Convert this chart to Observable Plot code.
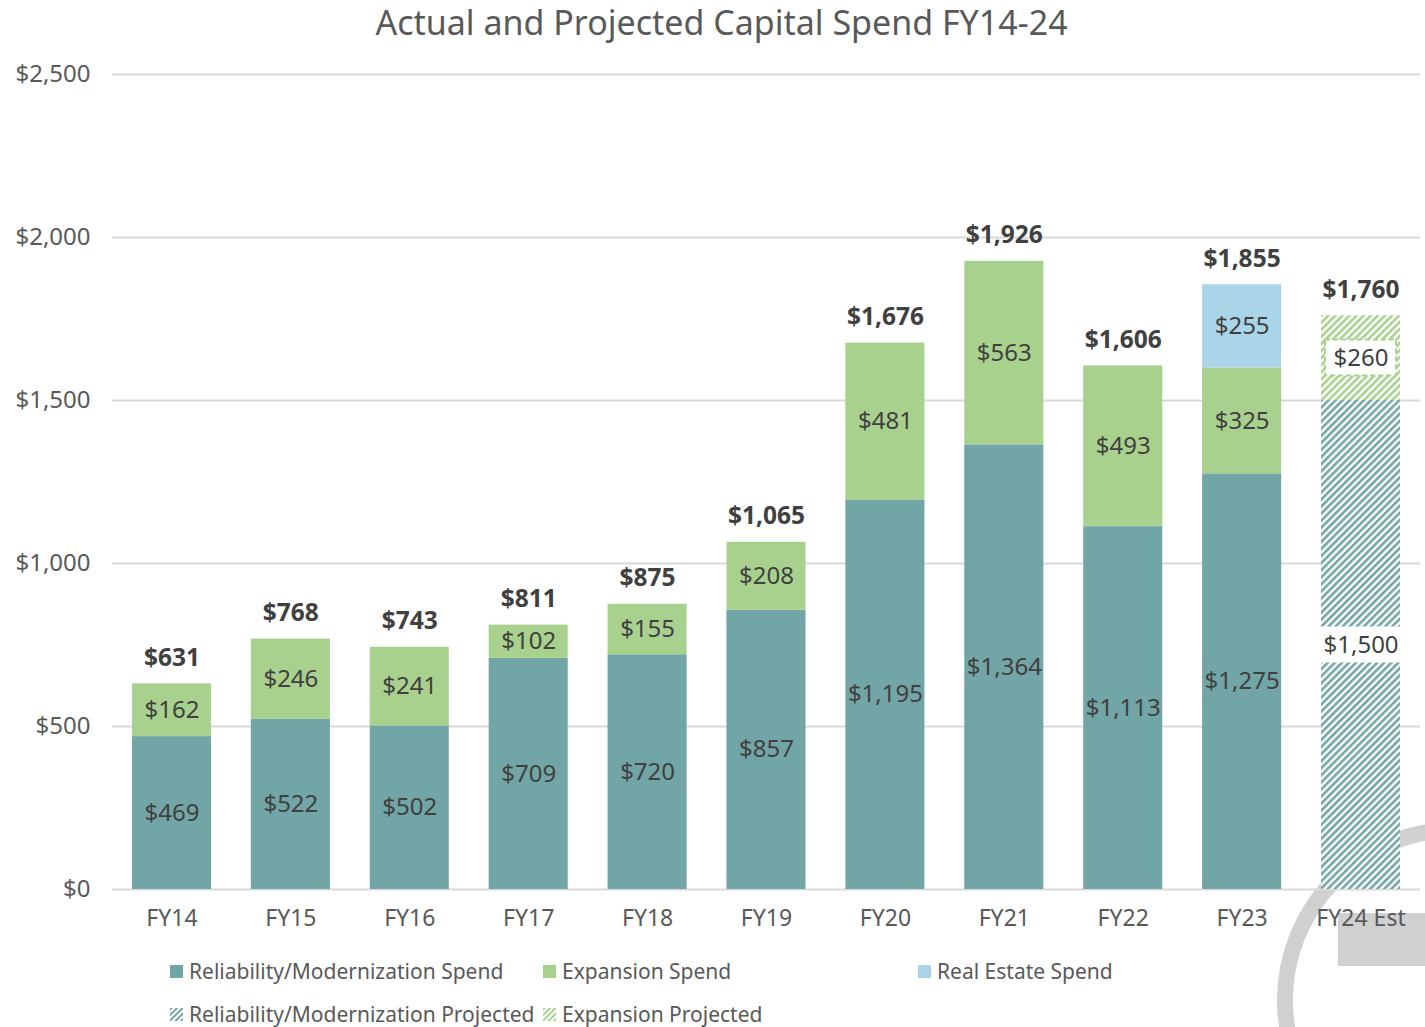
<!DOCTYPE html>
<html>
<head>
<meta charset="utf-8">
<script src="https://cdn.jsdelivr.net/npm/d3@7"></script>
<script src="https://cdn.jsdelivr.net/npm/@observablehq/plot@0.6"></script>
<style>
  html, body { margin: 0; padding: 0; background: #fff; }
  body { width: 1425px; height: 1027px; position: relative; overflow: hidden; font-family: "Noto Sans", sans-serif; }
  #title { position: relative; z-index: 2; height: 44px; line-height: 44px; text-align: center; font-size: 34px; color: #595959; padding-left: 18px; }
  #chart { position: relative; z-index: 2; }
  #legend { position: relative; z-index: 2; height: 87px; font-size: 21px; color: #595959; }
  .item { position: absolute; display: flex; align-items: center; white-space: nowrap; line-height: 1; }
  .item svg { margin-right: 6px; }
  .deco-ring { position: absolute; z-index: 1; left: 1277px; top: 822px; width: 356px; height: 356px; box-sizing: border-box; border: 16px solid #d0d0d0; border-radius: 50%; }
  .deco-rect { position: absolute; z-index: 1; left: 1338px; top: 913px; width: 100px; height: 53px; background: #d0d0d0; }
</style>
</head>
<body>
<div class="deco-ring"></div>
<div class="deco-rect"></div>
<div id="title">Actual and Projected Capital Spend FY14-24</div>
<div id="chart"></div>
<div id="legend"></div>
<script>
// ---- Data ----
const years = ["FY14","FY15","FY16","FY17","FY18","FY19","FY20","FY21","FY22","FY23","FY24 Est"];
const reliabilitySpend   = [469, 522, 502, 709, 720, 857, 1195, 1364, 1113, 1275, 0];
const expansionSpend     = [162, 246, 241, 102, 155, 208, 481, 563, 493, 325, 0];
const realEstateSpend    = [0, 0, 0, 0, 0, 0, 0, 0, 0, 255, 0];
const reliabilityProjected = [0, 0, 0, 0, 0, 0, 0, 0, 0, 0, 1500];
const expansionProjected   = [0, 0, 0, 0, 0, 0, 0, 0, 0, 0, 260];
const totalLabels = [631, 768, 743, 811, 875, 1065, 1676, 1926, 1606, 1855, 1760];
const yTicks = [0, 500, 1000, 1500, 2000, 2500];

const seriesNames = ["Reliability/Modernization Spend", "Expansion Spend", "Real Estate Spend",
                     "Reliability/Modernization Projected", "Expansion Projected"];
const seriesValues = [reliabilitySpend, expansionSpend, realEstateSpend, reliabilityProjected, expansionProjected];

const TEAL = "#72a5a5", GREEN = "#a9d18e", BLUE = "#aad4e8";
const seriesFill = [TEAL, GREEN, BLUE, "url(#hatchTeal)", "url(#hatchGreen)"];

// stack rows
const rows = [];
years.forEach((yr, i) => {
  let base = 0;
  seriesValues.forEach((vals, s) => {
    const v = vals[i];
    if (v > 0) {
      rows.push({year: yr, series: seriesNames[s], value: v, y1: base, y2: base + v, mid: base + v / 2, projected: s >= 3});
      base += v;
    }
  });
});
const totals = years.map((yr, i) => ({year: yr, total: totalLabels[i]}));
const fmt = d3.format("$,");

const projRel = rows.filter(d => d.series === seriesNames[3]);
const projExp = rows.filter(d => d.series === seriesNames[4]);

const chart = Plot.plot({
  width: 1425,
  height: 896,
  marginTop: 30,
  marginBottom: 51,
  marginLeft: 112,
  marginRight: 5,
  style: {background: "transparent", fontFamily: "Noto Sans, sans-serif", color: "#595959"},
  x: {domain: years, paddingInner: 0.335, paddingOuter: 0.1675, round: false, label: null, tickSize: 0},
  y: {domain: [0, 2500], label: null},
  color: {domain: seriesNames, range: seriesFill},
  marks: [
    Plot.ruleY(yTicks, {stroke: "#d9d9d9", strokeWidth: 2}),
    Plot.axisY({ticks: yTicks, tickFormat: fmt, tickSize: 0, tickPadding: 22, fontSize: 24, label: null, fill: "#595959"}),
    Plot.axisX({tickSize: 0, tickPadding: 20, fontSize: 23, label: null, fill: "#595959"}),
    Plot.rectY(rows, {x: "year", y1: "y1", y2: "y2", fill: "series"}),
    // label backgrounds for projected bar
    Plot.barY(projRel, {x: "year", y1: "mid", y2: "mid", insetTop: -18, insetBottom: -18, fill: "white"}),
    Plot.barY(projExp, {x: "year", y1: "mid", y2: "mid", insetTop: -18, insetBottom: -18, insetLeft: 4, insetRight: 4,
      fill: "white", stroke: GREEN, strokeWidth: 2, strokeDasharray: "5,3"}),
    Plot.text(rows, {x: "year", y: "mid", text: d => fmt(d.value), fontSize: 24, fill: "#404040"}),
    Plot.text(totals, {x: "year", y: "total", text: d => fmt(d.total), dy: -26, fontSize: 24.5, fontWeight: "bold", fill: "#404040"})
  ]
});

// hatch patterns
const defs = d3.select(chart).insert("defs", ":first-child");
function hatch(id, color) {
  const p = defs.append("pattern").attr("id", id).attr("patternUnits", "userSpaceOnUse")
    .attr("width", 5).attr("height", 5).attr("patternTransform", "rotate(45)");
  p.append("rect").attr("width", 5).attr("height", 5).attr("fill", "white");
  p.append("rect").attr("width", 2.6).attr("height", 5).attr("fill", color);
}
hatch("hatchTeal", TEAL);
hatch("hatchGreen", GREEN);
document.getElementById("chart").appendChild(chart);

// legend
const legendItems = [
  {name: seriesNames[0], fill: TEAL, hatch: false, left: 170, top: 31},
  {name: seriesNames[1], fill: GREEN, hatch: false, left: 543, top: 31},
  {name: seriesNames[2], fill: BLUE, hatch: false, left: 918, top: 31},
  {name: seriesNames[3], fill: TEAL, hatch: true, left: 170, top: 74},
  {name: seriesNames[4], fill: GREEN, hatch: true, left: 543, top: 74}
];
const legend = d3.select("#legend");
legendItems.forEach((it, i) => {
  const div = legend.append("div").attr("class", "item")
    .style("left", it.left + "px").style("top", (it.top - 11) + "px").style("height", "22px");
  const s = div.append("svg").attr("width", 13).attr("height", 13);
  if (it.hatch) {
    const pid = "lg" + i;
    const p = s.append("defs").append("pattern").attr("id", pid).attr("patternUnits", "userSpaceOnUse")
      .attr("width", 4).attr("height", 4).attr("patternTransform", "rotate(45)");
    p.append("rect").attr("width", 4).attr("height", 4).attr("fill", "white");
    p.append("rect").attr("width", 2).attr("height", 4).attr("fill", it.fill);
    s.append("rect").attr("width", 13).attr("height", 13).attr("fill", `url(#${pid})`);
  } else {
    s.append("rect").attr("width", 13).attr("height", 13).attr("fill", it.fill);
  }
  div.append("span").text(it.name);
});
</script>
</body>
</html>
